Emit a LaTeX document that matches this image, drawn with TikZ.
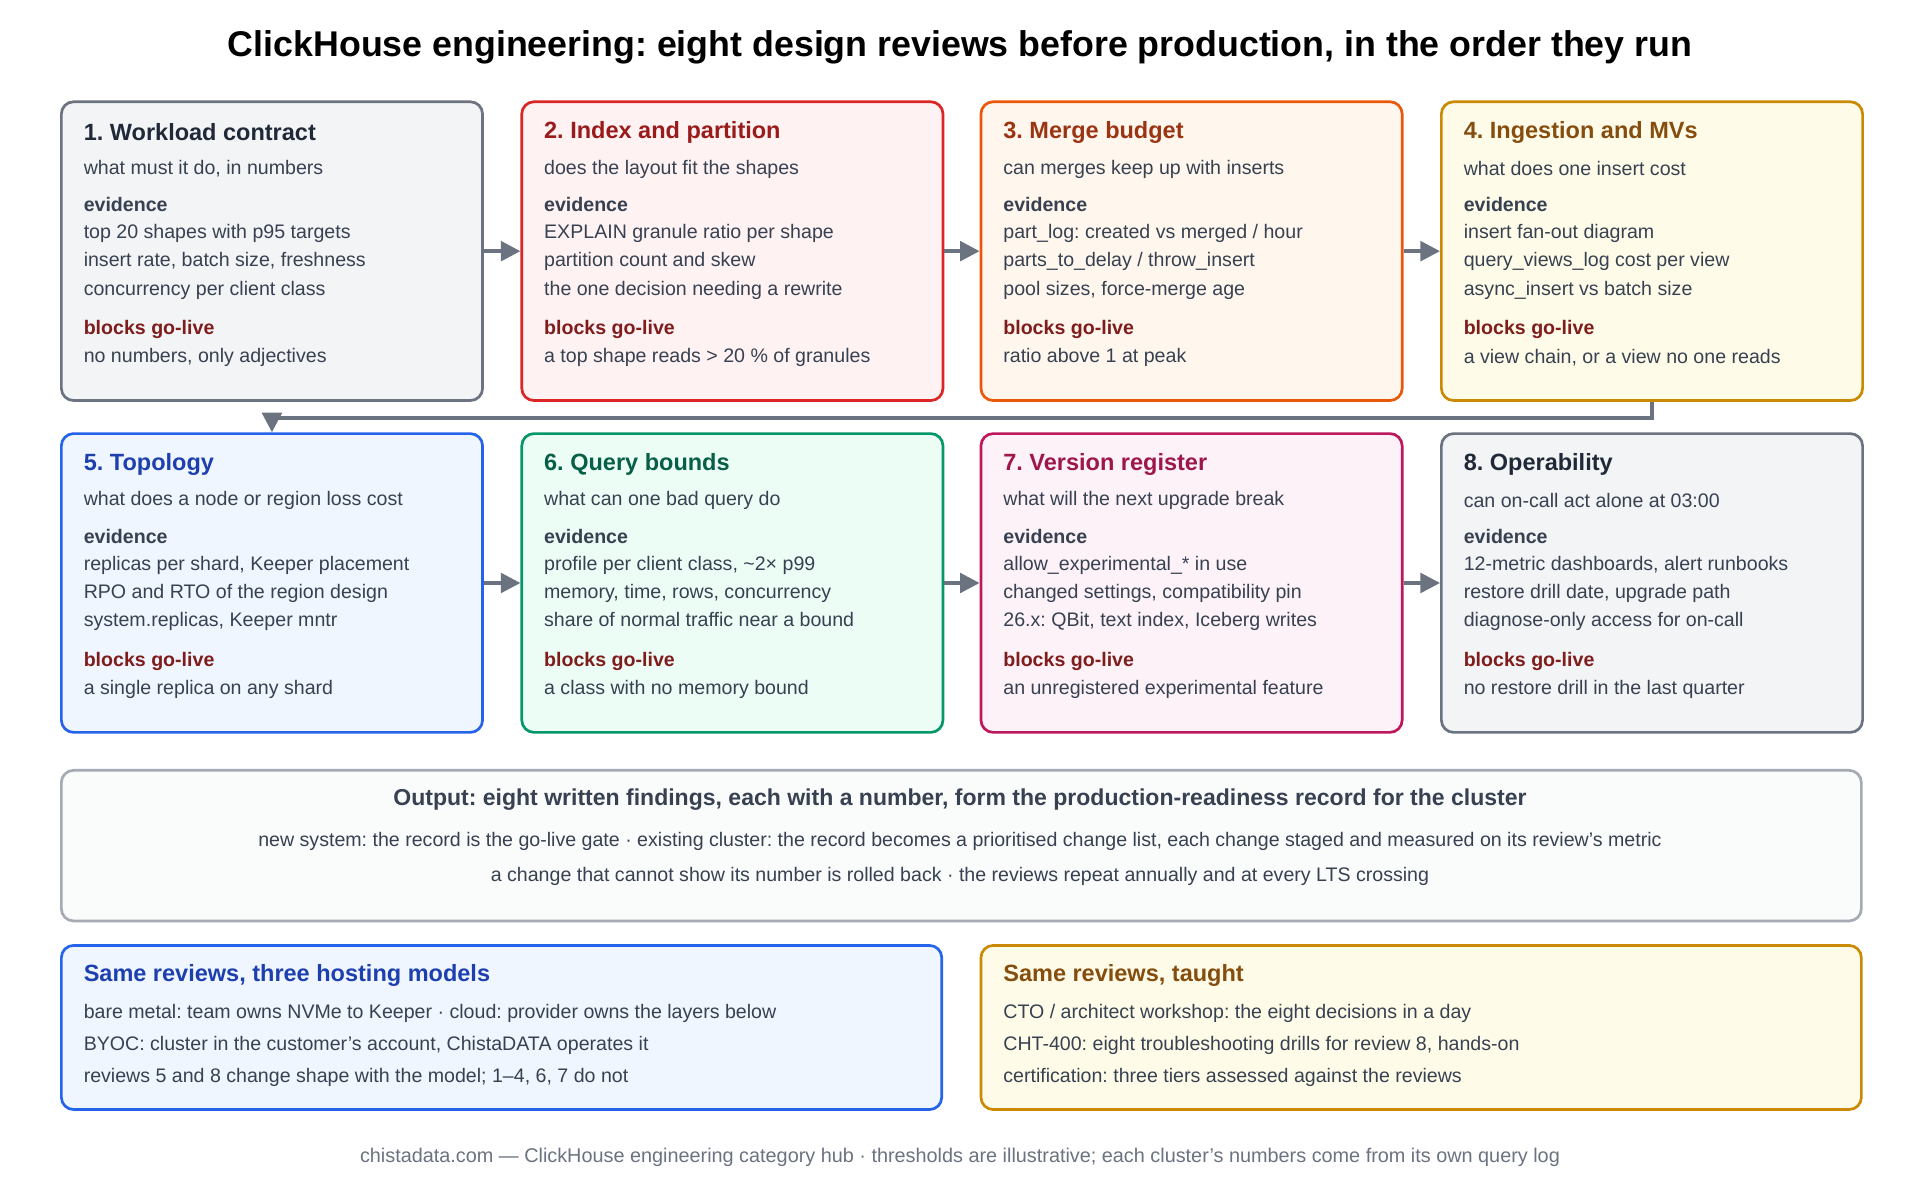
\documentclass[tikz,border=0pt]{standalone}
\usepackage{fontspec}
\setmainfont{Liberation Sans}
\usetikzlibrary{arrows.meta}
\definecolor{g1}{HTML}{6B7280}\definecolor{g1f}{HTML}{F3F4F6}\definecolor{g1t}{HTML}{1F2937}
\definecolor{r1}{HTML}{DC2626}\definecolor{r1f}{HTML}{FEF2F2}\definecolor{r1t}{HTML}{991B1B}
\definecolor{o1}{HTML}{EA580C}\definecolor{o1f}{HTML}{FFF7ED}\definecolor{o1t}{HTML}{9A3412}
\definecolor{y1}{HTML}{CA8A04}\definecolor{y1f}{HTML}{FEFCE8}\definecolor{y1t}{HTML}{854D0E}
\definecolor{b1}{HTML}{2563EB}\definecolor{b1f}{HTML}{EFF6FF}\definecolor{b1t}{HTML}{1E40AF}
\definecolor{e1}{HTML}{059669}\definecolor{e1f}{HTML}{ECFDF5}\definecolor{e1t}{HTML}{065F46}
\definecolor{p1}{HTML}{BE185D}\definecolor{p1f}{HTML}{FDF2F8}\definecolor{p1t}{HTML}{9D174D}
\definecolor{txt}{HTML}{374151}\definecolor{blk}{HTML}{7F1D1D}
\tikzset{
 box/.style={draw=#1, fill=#1f, line width=1.1pt, rounded corners=5pt, anchor=north west, inner sep=0pt},
 ttl/.style={anchor=west, font=\fontsize{9.6}{11}\selectfont\bfseries, text=#1, inner sep=0pt},
 bod/.style={anchor=west, font=\fontsize{8}{9}\selectfont, text=txt, inner sep=0pt},
 evd/.style={bod, font=\fontsize{8}{9}\selectfont\bfseries},
 blg/.style={bod, font=\fontsize{8}{9}\selectfont\bfseries, text=blk},
 arr/.style={draw=g1, line width=1.5pt, -{Triangle[length=8pt,width=8pt]}},
}
\newcommand\rbox[9]{%
 \node[box=#4, minimum width=172pt, minimum height=122pt] (#1) at (#2,#3) {};
 \node[ttl=#4t] (#1t) at ([shift={(19,26)}]#1.north west) {#5};
 \node[bod] (#1s) at ([shift={(19,56)}]#1.north west) {#6};
 \node[evd] (#1e) at ([shift={(19,85)}]#1.north west) {evidence};
 \node[bod,align=left,anchor=north west, font=\fontsize{8}{11.5}\selectfont] (#1l) at ([shift={(19,101)}]#1.north west) {#7};
 \node[blg] (#1b) at ([shift={(19,187)}]#1.north west) {blocks go-live};
 \node[bod] (#1x) at ([shift={(19,210)}]#1.north west) {#8};}
\begin{document}
\frenchspacing
\begin{tikzpicture}[x=0.5pt,y=-0.5pt]
\useasboundingbox[fill=white] (0,0) rectangle (1568,980);
\node[font=\fontsize{14.6}{17}\selectfont\bfseries, text=black] (title) at (784,39) {ClickHouse engineering: eight design reviews before production, in the order they run};
\rbox{a}{49}{82}{g1}{1. Workload contract}{what must it do, in numbers}{top 20 shapes with p95 targets\\insert rate, batch size, freshness\\concurrency per client class}{no numbers, only adjectives}{}
\rbox{b}{425}{82}{r1}{2. Index and partition}{does the layout fit the shapes}{EXPLAIN granule ratio per shape\\partition count and skew\\the one decision needing a rewrite}{a top shape reads > 20 \% of granules}{}
\rbox{c}{800}{82}{o1}{3. Merge budget}{can merges keep up with inserts}{part\_log: created vs merged / hour\\parts\_to\_delay / throw\_insert\\pool sizes, force-merge age}{ratio above 1 at peak}{}
\rbox{d}{1176}{82}{y1}{4. Ingestion and MVs}{what does one insert cost}{insert fan-out diagram\\query\_views\_log cost per view\\async\_insert vs batch size}{a view chain, or a view no one reads}{}
\rbox{e}{49}{353}{b1}{5. Topology}{what does a node or region loss cost}{replicas per shard, Keeper placement\\RPO and RTO of the region design\\system.replicas, Keeper mntr}{a single replica on any shard}{}
\rbox{f}{425}{353}{e1}{6. Query bounds}{what can one bad query do}{profile per client class, \textasciitilde 2× p99\\memory, time, rows, concurrency\\share of normal traffic near a bound}{a class with no memory bound}{}
\rbox{g}{800}{353}{p1}{7. Version register}{what will the next upgrade break}{allow\_experimental\_* in use\\changed settings, compatibility pin\\26.x: QBit, text index, Iceberg writes}{an unregistered experimental feature}{}
\rbox{h}{1176}{353}{g1}{8. Operability}{can on-call act alone at 03:00}{12-metric dashboards, alert runbooks\\restore drill date, upgrade path\\diagnose-only access for on-call}{no restore drill in the last quarter}{}
\draw[arr] (a.east) -- (b.west);
\draw[arr] (b.east) -- (c.west);
\draw[arr] (c.east) -- (d.west);
\draw[arr] (e.east) -- (f.west);
\draw[arr] (f.east) -- (g.west);
\draw[arr] (g.east) -- (h.west);
\draw[arr, rounded corners=0pt] (d.south) -- ++(0,13) -| (e.north);
% output
\node[draw=g1!60, fill=g1f!40, line width=1.1pt, rounded corners=5pt, anchor=north west, minimum width=735pt, minimum height=61.5pt, inner sep=0pt] (out) at (49,628) {};
\node[font=\fontsize{9.4}{11}\selectfont\bfseries, text=txt] (outt) at (784,653) {Output: eight written findings, each with a number, form the production-readiness record for the cluster};
\node[bod, anchor=center] (out1) at (784,687) {new system: the record is the go-live gate · existing cluster: the record becomes a prioritised change list, each change staged and measured on its review's metric};
\node[bod, anchor=center] (out2) at (784,716) {a change that cannot show its number is rolled back · the reviews repeat annually and at every LTS crossing};
% bottom
\node[box=b1, minimum width=359.5pt, minimum height=67pt] (hm) at (49,771) {};
\node[ttl=b1t] (hmt) at ([shift={(19,26)}]hm.north west) {Same reviews, three hosting models};
\node[bod,align=left,anchor=north west, font=\fontsize{8}{13}\selectfont] (hml) at ([shift={(19,49)}]hm.north west) {bare metal: team owns NVMe to Keeper · cloud: provider owns the layers below\\BYOC: cluster in the customer's account, ChistaDATA operates it\\reviews 5 and 8 change shape with the model; 1–4, 6, 7 do not};
\node[box=y1, minimum width=359.5pt, minimum height=67pt] (tg) at (800,771) {};
\node[ttl=y1t] (tgt) at ([shift={(19,26)}]tg.north west) {Same reviews, taught};
\node[bod,align=left,anchor=north west, font=\fontsize{8}{13}\selectfont] (tgl) at ([shift={(19,49)}]tg.north west) {CTO / architect workshop: the eight decisions in a day\\CHT-400: eight troubleshooting drills for review 8, hands-on\\certification: three tiers assessed against the reviews};
\node[font=\fontsize{8.1}{9}\selectfont, text=g1] (foot) at (784,945) {chistadata.com — ClickHouse engineering category hub · thresholds are illustrative; each cluster's numbers come from its own query log};
\end{tikzpicture}
\end{document}
